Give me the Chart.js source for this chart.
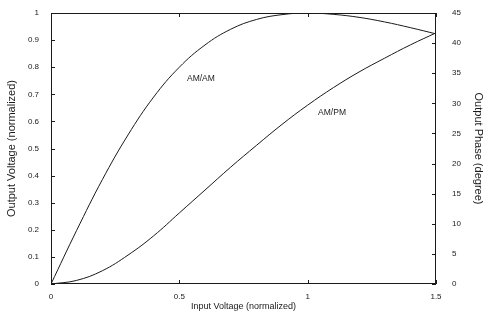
<!DOCTYPE html>
<html>
<head>
<meta charset="utf-8">
<script src="https://cdn.jsdelivr.net/npm/chart.js@4/dist/chart.umd.min.js"></script>
<style>
    html, body { margin: 0; padding: 0; background: #fff; }
</style>
</head>
<body>
<canvas id="chart" width="490" height="318"></canvas>
<script>
// Input voltage (normalized), x axis
const inputVoltage = [0, 0.1, 0.2, 0.3, 0.4, 0.5, 0.6, 0.7, 0.8, 0.9, 1.0, 1.1, 1.2, 1.3, 1.4, 1.5];
// AM/AM: output voltage (normalized), left axis
const amamVoltage = [0, 0.198, 0.385, 0.55, 0.69, 0.80, 0.882, 0.94, 0.976, 0.994, 1.0, 0.995, 0.984, 0.967, 0.946, 0.923];
// AM/PM: output phase (degree), right axis
const ampmPhase = [0, 0.6, 2.2, 4.8, 8.0, 11.8, 15.6, 19.4, 23.0, 26.5, 29.7, 32.6, 35.2, 37.5, 39.7, 41.7];

const xTicks = [0, 0.5, 1, 1.5];
const voltageTicks = [0, 0.1, 0.2, 0.3, 0.4, 0.5, 0.6, 0.7, 0.8, 0.9, 1];
const phaseTicks = [0, 5, 10, 15, 20, 25, 30, 35, 40, 45];

// curve labels, placed in data coordinates
const curveLabels = [
    { text: 'AM/AM', x: 0.584, y: 0.756, axis: 'y' },
    { text: 'AM/PM', x: 1.095, y: 28.4, axis: 'y1' }
];

const FONT = '"Liberation Sans", Arial, sans-serif';
const INK = '#1a1a1a';

function toPoints(xs, ys) {
    return xs.map(function(x, i) { return { x: x, y: ys[i] }; });
}

function fixedTicks(values) {
    return function(scale) {
        scale.ticks = values.map(function(v) { return { value: v }; });
    };
}

// fixed box sizes, no extra room asked for overhanging labels
function fixSize(w, h) {
    return function(scale) {
        if (w) scale.width = w;
        if (h) scale.height = h;
        scale.paddingTop = 0;
        scale.paddingBottom = 0;
        scale.paddingLeft = 0;
        scale.paddingRight = 0;
    };
}

// box around the plot, tick marks pointing inwards, curve labels
const framePlugin = {
    id: 'frame',
    afterDatasetsDraw: function(chart) {
        const ctx = chart.ctx;
        const a = chart.chartArea;
        const sx = chart.scales.x, sy = chart.scales.y, sy1 = chart.scales.y1;
        ctx.save();
        ctx.strokeStyle = INK;
        ctx.lineWidth = 1;
        ctx.strokeRect(a.left + 0.5, a.top + 0.5, a.right - a.left - 1, a.bottom - a.top - 1);
        ctx.beginPath();
        xTicks.forEach(function(v) {
            const px = Math.round(sx.getPixelForValue(v)) + 0.5;
            ctx.moveTo(px, a.bottom); ctx.lineTo(px, a.bottom - 4);
            ctx.moveTo(px, a.top); ctx.lineTo(px, a.top + 4);
        });
        voltageTicks.forEach(function(v) {
            const py = Math.round(sy.getPixelForValue(v)) + 0.5;
            ctx.moveTo(a.left, py); ctx.lineTo(a.left + 4, py);
        });
        phaseTicks.forEach(function(v) {
            const py = Math.round(sy1.getPixelForValue(v)) + 0.5;
            ctx.moveTo(a.right, py); ctx.lineTo(a.right - 4, py);
        });
        ctx.stroke();

        ctx.fillStyle = INK;
        ctx.font = '8.5px ' + FONT;
        ctx.textAlign = 'center';
        ctx.textBaseline = 'middle';
        curveLabels.forEach(function(l) {
            ctx.fillText(l.text, sx.getPixelForValue(l.x), chart.scales[l.axis].getPixelForValue(l.y));
        });
        ctx.restore();
    }
};

new Chart(document.getElementById('chart'), {
    type: 'line',
    data: {
        datasets: [{
            label: 'AM/AM',
            data: toPoints(inputVoltage, amamVoltage),
            yAxisID: 'y',
            borderColor: INK,
            borderWidth: 1,
            pointRadius: 0,
            tension: 0.4
        }, {
            label: 'AM/PM',
            data: toPoints(inputVoltage, ampmPhase),
            yAxisID: 'y1',
            borderColor: INK,
            borderWidth: 1,
            pointRadius: 0,
            tension: 0.4
        }]
    },
    options: {
        responsive: false,
        animation: false,
        layout: {
            padding: { top: 13, left: 0, right: 0, bottom: 0 }
        },
        plugins: {
            legend: { display: false },
            tooltip: { enabled: false }
        },
        scales: {
            x: {
                type: 'linear',
                min: 0,
                max: 1.5,
                afterBuildTicks: fixedTicks(xTicks),
                afterFit: fixSize(0, 34),
                grid: { display: false, drawTicks: false },
                border: { display: false },
                ticks: {
                    padding: 8,
                    color: INK,
                    font: { family: FONT, size: 8 },
                    callback: function(v) { return String(v); }
                },
                title: {
                    display: true,
                    text: 'Input Voltage (normalized)',
                    color: INK,
                    font: { family: FONT, size: 9 },
                    padding: { top: 0, bottom: 6 }
                }
            },
            y: {
                position: 'left',
                min: 0,
                max: 1,
                afterBuildTicks: fixedTicks(voltageTicks),
                afterFit: fixSize(51, 0),
                grid: { display: false, drawTicks: false },
                border: { display: false },
                ticks: {
                    padding: 12,
                    color: INK,
                    font: { family: FONT, size: 8 },
                    callback: function(v) { return String(v); }
                },
                title: {
                    display: true,
                    text: 'Output Voltage (normalized)',
                    color: INK,
                    font: { family: FONT, size: 11 },
                    padding: { top: 5, bottom: 0 }
                }
            },
            y1: {
                position: 'right',
                min: 0,
                max: 45,
                afterBuildTicks: fixedTicks(phaseTicks),
                afterFit: fixSize(54, 0),
                grid: { display: false, drawTicks: false },
                border: { display: false },
                ticks: {
                    padding: 16,
                    color: INK,
                    font: { family: FONT, size: 8 },
                    callback: function(v) { return String(v); }
                },
                title: {
                    display: true,
                    text: 'Output Phase (degree)',
                    color: INK,
                    font: { family: FONT, size: 11 },
                    padding: { top: 5, bottom: 0 }
                }
            }
        }
    },
    plugins: [framePlugin]
});
</script>
</body>
</html>
